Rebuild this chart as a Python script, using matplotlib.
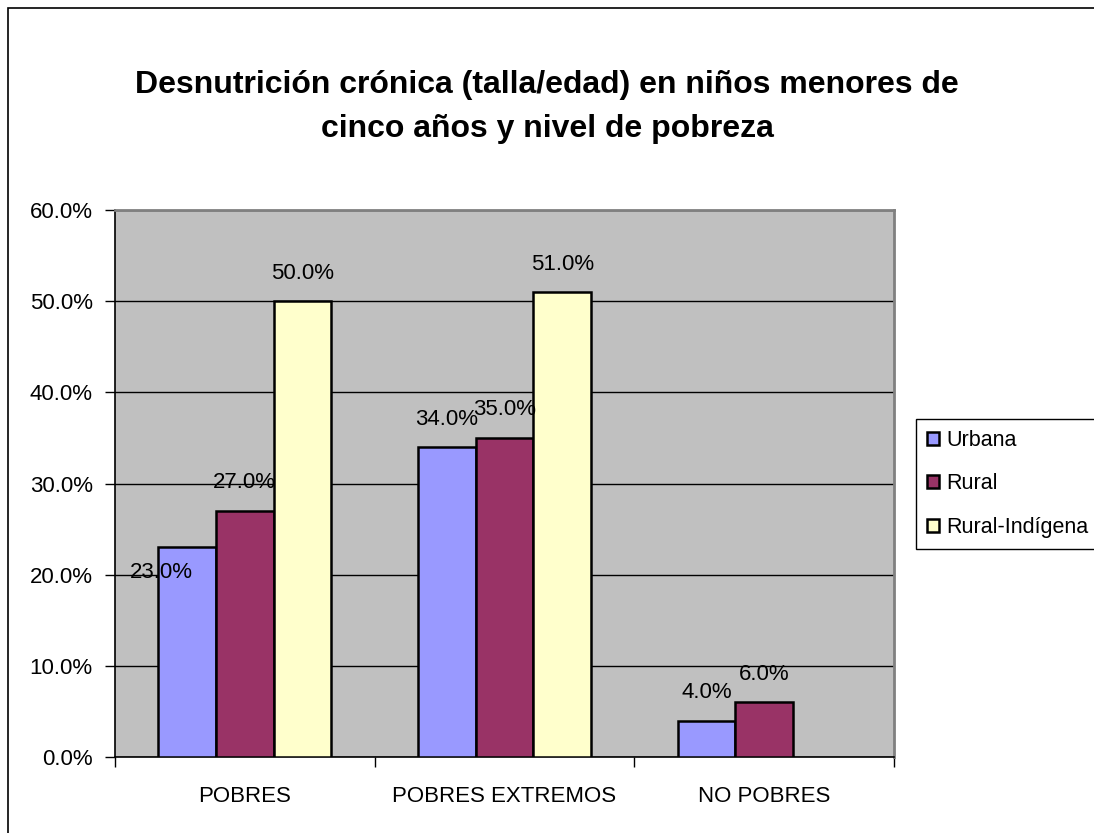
"""Desnutrición crónica por nivel de pobreza, estilo Excel."""
import matplotlib
matplotlib.use("Agg")
import matplotlib.pyplot as plt
from matplotlib.patches import Rectangle
from matplotlib.ticker import FuncFormatter

categories = ["POBRES", "POBRES EXTREMOS", "NO POBRES"]
series_names = ["Urbana", "Rural", "Rural-Indígena"]
urbana = [23.0, 34.0, 4.0]
rural = [27.0, 35.0, 6.0]
rural_indigena = [50.0, 51.0, None]
series_values = [urbana, rural, rural_indigena]
colors = ["#9999FF", "#993366", "#FFFFCC"]

TITLE = "Desnutrición crónica (talla/edad) en niños menores de\ncinco años y nivel de pobreza"

FONT = ["Liberation Sans", "DejaVu Sans"]
plt.rcParams["font.family"] = FONT

W, H = 1094, 833
LABEL_SIZE = 16
fig = plt.figure(figsize=(W / 100, H / 100), dpi=100)

# outer chart border (runs off the right and bottom edges)
fig.patches.append(Rectangle((8 / W, -0.05), 1.2, 1 - 8 / H + 0.05,
                             transform=fig.transFigure, fill=False,
                             edgecolor="black", linewidth=1.2))

ax = fig.add_axes([115 / W, 1 - 757 / H, (894 - 115) / W, (757 - 210) / H])
ax.set_facecolor("#C0C0C0")

n = len(series_names)
bar_w = 1 / (n + 1.5)
x = list(range(len(categories)))

for i, (name, vals, col) in enumerate(zip(series_names, series_values, colors)):
    xs = [xi + (i - (n - 1) / 2) * bar_w for xi, v in zip(x, vals) if v is not None]
    ys = [v for v in vals if v is not None]
    ax.bar(xs, ys, width=bar_w, color=col, edgecolor="black", linewidth=1.8,
           label=name, zorder=3)
    for xv, yv in zip(xs, ys):
        dx, dy = 0, 28
        if name == "Urbana" and xv < 0.5:
            dx, dy = -26, -25  # label sits over the bar top in the original
        ax.annotate(f"{yv:.1f}%", (xv, yv), xytext=(dx, dy),
                    textcoords="offset pixels", ha="center", va="center",
                    fontsize=LABEL_SIZE, zorder=4)

ax.set_ylim(0, 60)
ax.set_xlim(-0.5, len(categories) - 0.5)
ax.set_yticks(range(0, 61, 10))
ax.yaxis.set_major_formatter(FuncFormatter(lambda v, _: f"{v:.1f}%"))
ax.yaxis.grid(True, color="black", linewidth=1.0, zorder=1)
ax.set_axisbelow(True)

# category boundaries as tick marks, labels centered in each group
ax.set_xticks([-0.5, 0.5, 1.5, 2.5])
ax.set_xticklabels([])
ax.set_xticks(x, minor=True)
ax.set_xticklabels(categories, minor=True)
ax.tick_params(axis="x", which="minor", length=0, pad=21, labelsize=LABEL_SIZE)
ax.tick_params(axis="x", which="major", length=7, width=1, color="black")
ax.tick_params(axis="y", length=7, width=1, pad=9, labelsize=LABEL_SIZE)

for side in ("top", "right"):
    ax.spines[side].set_color("#808080")
    ax.spines[side].set_linewidth(2)
for side in ("left", "bottom"):
    ax.spines[side].set_color("black")
    ax.spines[side].set_linewidth(1.2)

fig.text(0.5, 1 - 107 / H, TITLE, ha="center", va="center", fontsize=23,
         fontweight="bold", linespacing=1.65)

leg = fig.legend(loc="upper left", bbox_to_anchor=(916 / W, 1 - 419 / H),
                 bbox_transform=fig.transFigure, borderaxespad=0,
                 fancybox=False, edgecolor="black", framealpha=1,
                 fontsize=15.5, handlelength=0.55, handleheight=0.55,
                 handletextpad=0.35, labelspacing=1.05, borderpad=0.5)
leg.get_frame().set_linewidth(1.0)

fig.savefig("out.png", dpi=100)
